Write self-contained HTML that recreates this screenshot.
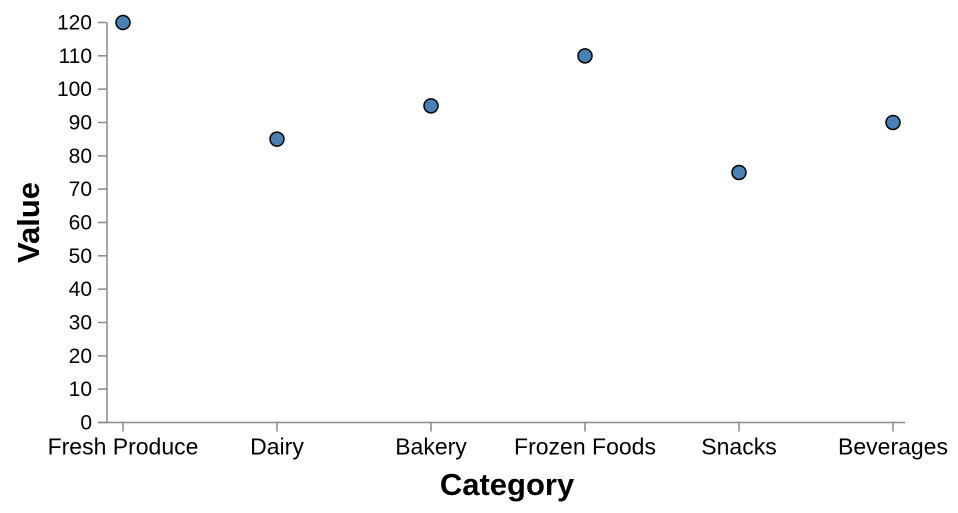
<!DOCTYPE html>
<html><head><meta charset="utf-8"><style>
body{margin:0;background:#fff;width:958px;height:508px;overflow:hidden}
svg{font-family:"Liberation Sans",Arial,sans-serif}
</style></head><body>
<svg id="chart" width="958" height="508" viewBox="0 0 958 508"></svg>
<script>
const categories=["Fresh Produce","Dairy","Bakery","Frozen Foods","Snacks","Beverages"];
const values=[120,85,95,110,75,90];
const yTicks=[0,10,20,30,40,50,60,70,80,90,100,110,120];
const NS="http://www.w3.org/2000/svg";
const svg=document.getElementById("chart");
const x0=107,x1=907,yBottom=422.5,yTop=22.5,yMax=120;
function xs(i){return x0+16+i*154;}
function ys(v){return yBottom-(v/yMax)*(yBottom-yTop);}
function mk(t,a,txt){const e=document.createElementNS(NS,t);for(const k in a)e.setAttribute(k,a[k]);if(txt!=null)e.textContent=txt;svg.appendChild(e);return e;}
yTicks.forEach(t=>{
 const l=mk("line",{x1:x0-9,x2:x0,y1:ys(t),y2:ys(t),stroke:"#888","stroke-width":1.5});
 
 
 const tx=mk("text",{x:x0-15,y:ys(t)+7,"text-anchor":"end","font-size":21,fill:"#000"},t);
 
 
});
categories.forEach((c,i)=>{
 const l=mk("line",{x1:xs(i),x2:xs(i),y1:yBottom,y2:yBottom+9,stroke:"#888","stroke-width":1.5});
 
 
 const tx=mk("text",{x:xs(i),y:yBottom+32,"text-anchor":"middle","font-size":23,fill:"#000"},c);
 
 
});
const ya=mk("line",{x1:x0,x2:x0,y1:yTop,y2:yBottom,stroke:"#888","stroke-width":1.5});


const xa=mk("line",{x1:x0-9,x2:x1-2,y1:yBottom,y2:yBottom,stroke:"#888","stroke-width":1.5});


values.forEach((v,i)=>{
 const c=mk("circle",{cx:xs(i),cy:ys(v),r:7,fill:"#4682b4",stroke:"#000","stroke-width":1.5});
 
 
});
const xt=mk("text",{x:(x0+x1)/2,y:495,"text-anchor":"middle","font-size":31,"font-weight":"bold",fill:"#000"},"Category");


const yt=mk("text",{x:0,y:0,transform:"translate(39,"+((yTop+yBottom)/2)+") rotate(-90)","text-anchor":"middle","font-size":31,"font-weight":"bold",fill:"#000"},"Value");


</script>
</body></html>
